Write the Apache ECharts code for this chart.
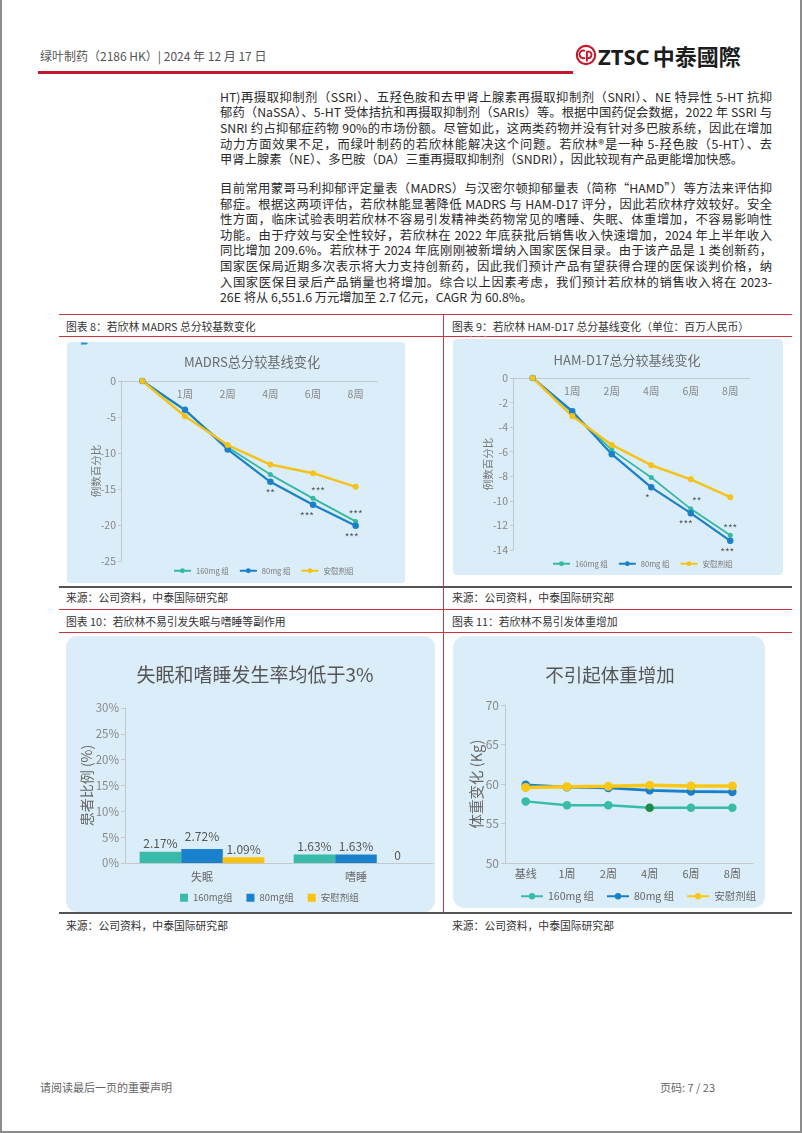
<!DOCTYPE html>
<html><head><meta charset="utf-8">
<script src="https://cdn.jsdelivr.net/npm/echarts@6/dist/echarts.min.js"></script>
<style>
html,body{margin:0;padding:0;background:#fff;}
#page{position:relative;width:802px;height:1133px;overflow:hidden;font-family:"Noto Sans CJK SC",sans-serif;color:#333;}
.abs{position:absolute;white-space:nowrap;}
.line{position:absolute;left:220px;width:552px;height:15.6px;line-height:15.6px;font-size:12.3px;white-space:nowrap;text-align:justify;text-align-last:justify;color:#2a2a2a;}
.line.last{text-align:left;text-align-last:left;}
.bar{position:absolute;}
.cap{position:absolute;font-size:10.8px;line-height:14px;color:#333;white-space:nowrap;}
.panel{position:absolute;background:#dbedf8;}
.chart{position:absolute;}
</style></head>
<body><div id="page">
<!-- page border -->
<div class="bar" style="left:0;top:0;width:1.5px;height:1133px;background:#8c8c8c"></div>
<div class="bar" style="left:800px;top:0;width:2px;height:1133px;background:#8c8c8c"></div>
<div class="bar" style="left:0;top:1131px;width:802px;height:2px;background:#8c8c8c"></div>

<!-- header -->
<div class="abs" style="left:40px;top:48px;font-size:12px;line-height:16px;color:#555">绿叶制药（2186 HK）| 2024 年 12 月 17 日</div>
<div class="bar" style="left:38px;top:71px;width:535px;height:3px;background:#c3182b"></div>
<svg class="abs" style="left:575px;top:44px" width="22" height="22" viewBox="0 0 24 24">
<circle cx="12" cy="12" r="10" fill="none" stroke="#c3182b" stroke-width="2.3"/>
<path d="M11 7.5 a4.2 4.2 0 1 0 0 7.5" stroke="#c3182b" stroke-width="2.1" fill="none"/>
<path d="M13 8 v11 M13 8.5 a3.6 3.6 0 1 1 0 6.6" stroke="#c3182b" stroke-width="2.1" fill="none"/>
</svg>
<div class="abs" style="left:598px;top:41px;font-size:22px;line-height:28px;font-weight:bold;color:#1c1c1c;font-family:'Noto Sans','Noto Sans CJK TC',sans-serif">ZTSC<span style="font-family:'Noto Sans CJK TC';margin-left:3px">中泰國際</span></div>

<!-- body text -->
<div id="body"></div>

<!-- frame lines -->
<div class="bar" style="left:59px;top:314px;width:733px;height:1.3px;background:#c9363e"></div>
<div class="bar" style="left:59px;top:336px;width:733px;height:1px;background:#c9363e"></div>
<div class="bar" style="left:442.5px;top:314px;width:1.3px;height:599px;background:#c9363e"></div>
<div class="bar" style="left:59px;top:585.5px;width:733px;height:2px;background:#555"></div>
<div class="bar" style="left:59px;top:609px;width:733px;height:1px;background:#c9363e"></div>
<div class="bar" style="left:59px;top:632px;width:733px;height:1px;background:#c9363e"></div>
<div class="bar" style="left:59px;top:912px;width:733px;height:2px;background:#555"></div>

<div class="cap" style="left:66px;top:319px">图表 8：若欣林 MADRS 总分较基数变化</div>
<div class="cap" style="left:452px;top:319px">图表 9：若欣林 HAM-D17 总分基线变化（单位：百万人民币）</div>
<div class="cap" style="left:66px;top:590px">来源：公司资料，中泰国际研究部</div>
<div class="cap" style="left:452px;top:590px">来源：公司资料，中泰国际研究部</div>
<div class="cap" style="left:66px;top:614px">图表 10：若欣林不易引发失眠与嗜睡等副作用</div>
<div class="cap" style="left:452px;top:614px">图表 11：若欣林不易引发体重增加</div>
<div class="cap" style="left:66px;top:918px">来源：公司资料，中泰国际研究部</div>
<div class="cap" style="left:452px;top:918px">来源：公司资料，中泰国际研究部</div>

<!-- panels -->
<div class="panel" style="left:67px;top:342px;width:338px;height:241px;border-radius:4px"></div>
<div class="panel" style="left:453px;top:339px;width:330px;height:236px;border-radius:4px"></div>
<div class="panel" style="left:66px;top:636px;width:369px;height:276px;border-radius:11px"></div>
<div class="panel" style="left:453px;top:636px;width:312px;height:272px;border-radius:12px"></div>
<div class="abs" style="left:81px;top:338px;font-size:6px;color:#2a8fd0;letter-spacing:-1px">▸▸▸</div>
<div class="abs" style="left:468px;top:331px;font-size:7px;color:#9aa4aa;letter-spacing:0px">···</div>

<div id="c8" class="chart" style="left:67px;top:342px;width:338px;height:241px"></div>
<div id="c9" class="chart" style="left:453px;top:339px;width:330px;height:236px"></div>
<div id="c10" class="chart" style="left:66px;top:636px;width:372px;height:276px"></div>
<div id="c11" class="chart" style="left:453px;top:636px;width:335px;height:272px"></div>

<!-- footer -->
<div class="abs" style="left:40px;top:1080px;font-size:11px;line-height:14px;color:#666">请阅读最后一页的重要声明</div>
<div class="abs" style="left:660px;top:1080px;font-size:11px;line-height:14px;color:#666">页码: 7 / 23</div>
</div>

<script>
// ---------- text ----------
const para1 = [
 'HT)再摄取抑制剂（SSRI）、五羟色胺和去甲肾上腺素再摄取抑制剂（SNRI）、NE 特异性 5-HT 抗抑',
 '郁药（NaSSA）、5-HT 受体拮抗和再摄取抑制剂（SARIs）等。根据中国药促会数据，2022 年 SSRI 与',
 'SNRI 约占抑郁症药物 90%的市场份额。尽管如此，这两类药物并没有针对多巴胺系统，因此在增加',
 '动力方面效果不足，而绿叶制药的若欣林能解决这个问题。若欣林®是一种 5-羟色胺（5-HT）、去',
 '甲肾上腺素（NE）、多巴胺（DA）三重再摄取抑制剂（SNDRI），因此较现有产品更能增加快感。'
];
const para2 = [
 '目前常用蒙哥马利抑郁评定量表（MADRS）与汉密尔顿抑郁量表（简称“HAMD”）等方法来评估抑',
 '郁症。根据这两项评估，若欣林能显著降低 MADRS 与 HAM-D17 评分，因此若欣林疗效较好。安全',
 '性方面，临床试验表明若欣林不容易引发精神类药物常见的嗜睡、失眠、体重增加，不容易影响性',
 '功能。由于疗效与安全性较好，若欣林在 2022 年底获批后销售收入快速增加，2024 年上半年收入',
 '同比增加 209.6%。若欣林于 2024 年底刚刚被新增纳入国家医保目录。由于该产品是 1 类创新药，',
 '国家医保局近期多次表示将大力支持创新药，因此我们预计产品有望获得合理的医保谈判价格，纳',
 '入国家医保目录后产品销量也将增加。综合以上因素考虑，我们预计若欣林的销售收入将在 2023-',
 '26E 将从 6,551.6 万元增加至 2.7 亿元，CAGR 为 60.8%。'
];

// ---------- data ----------
const weeks = ['', '1周', '2周', '4周', '6周', '8周'];
const groupNames = ['160mg 组', '80mg 组', '安慰剂组'];

const madrsYTicks = [0, -5, -10, -15, -20, -25];
const madrs160 = [0, -4.1, -9.2, -13.0, -16.3, -19.5];
const madrs80 = [0, -4.0, -9.5, -14.0, -17.2, -20.1];
const madrsPlacebo = [0, -4.9, -8.9, -11.6, -12.8, -14.7];
const madrs160Marks = ['', '', '', '', '***', '***'];
const madrs80Marks = ['', '', '', '**', '***', '***'];

const hamYTicks = [0, -2, -4, -6, -8, -10, -12, -14];
const ham160 = [0, -2.8, -5.85, -8.1, -10.65, -12.8];
const ham80 = [0, -2.7, -6.2, -8.9, -11.0, -13.25];
const hamPlacebo = [0, -3.1, -5.45, -7.1, -8.25, -9.7];
const ham160Marks = ['', '', '', '', '**', '***'];
const ham80Marks = ['', '', '', '*', '***', '***'];

const aeCategories = ['失眠', '嗜睡'];
const aeGroupNames = ['160mg组', '80mg组', '安慰剂组'];
const aeYTicks = [0, 5, 10, 15, 20, 25, 30];
const ae160 = [2.17, 1.63];
const ae80 = [2.72, 1.63];
const aePlacebo = [1.09, 0];

const wtCategories = ['基线', '1周', '2周', '4周', '6周', '8周'];
const wtYTicks = [50, 55, 60, 65, 70];
const wt160 = [57.8, 57.3, 57.3, 57.0, 57.0, 57.0];
const wt80 = [59.9, 59.6, 59.5, 59.2, 59.05, 59.0];
const wtPlacebo = [59.55, 59.65, 59.7, 59.85, 59.75, 59.75];

// ---------- body text render ----------
(function(){
  const body = document.getElementById('body');
  const LH = 15.6;
  function put(lines, c0){
    lines.forEach((t,i)=>{
      const d = document.createElement('div');
      d.className = 'line' + (i===lines.length-1 ? ' last' : '');
      d.style.top = (c0 + i*LH - LH/2) + 'px';
      d.textContent = t;
      body.appendChild(d);
    });
  }
  put(para1, 97.5);
  put(para2, 188.8);
})();

// ---------- charts ----------
const FONT = '"Noto Sans CJK SC", sans-serif';
const C_TEAL = '#35b8a6', C_BLUE = '#1a80c8', C_YEL = '#f5c21b';
const AX = '#c3c8cc';

function range(ticks){
  const mn = Math.min(...ticks), mx = Math.max(...ticks);
  return {min: mn, max: mx, interval: Math.abs(ticks[1]-ticks[0])};
}
function withMarks(vals, marks, pos, dist, offsets){
  return vals.map((v,i)=> marks[i] ? {value: v, label: {show: true, formatter: marks[i], position: pos, distance: dist, offset: (offsets && offsets[i]) || [0,0]}} : v);
}
function titleText(x, y, text, size, fill){
  return {type: 'text', x: x, y: y, style: {text: text, fontSize: size, fill: fill, align: 'center', verticalAlign: 'middle', textAlign: 'center', textVerticalAlign: 'middle', fontFamily: FONT}};
}

function scoreOption(cfg){
  const r = range(cfg.ticks);
  return {
    animation: false,
    textStyle: {fontFamily: FONT},
    graphic: [titleText(cfg.titleX, cfg.titleY, cfg.title, cfg.titleSize, '#6a6a6a')],
    grid: cfg.grid,
    legend: {left: cfg.legendLeft, top: cfg.legendTop, itemWidth: 17, itemHeight: 6, itemGap: 10,
      textStyle: {fontSize: 7.5, color: '#777'}, data: groupNames},
    xAxis: {type: 'category', data: weeks, position: 'top',
      axisLine: {lineStyle: {color: AX}},
      axisTick: {inside: false, length: 4, lineStyle: {color: AX}},
      axisLabel: {color: '#888', fontSize: 10.5, margin: 8, inside: true}},
    yAxis: {type: 'value', min: r.min, max: r.max, interval: r.interval,
      axisLine: {show: true, lineStyle: {color: AX}},
      axisTick: {show: true, length: 3, lineStyle: {color: AX}},
      splitLine: {show: false},
      axisLabel: {color: '#888', fontSize: 10.5, margin: 5},
      name: '例数百分比', nameLocation: 'middle', nameRotate: 90, nameGap: cfg.nameGap, nameMoveOverlap: false,
      nameTextStyle: {color: '#777', fontSize: 10.5}},
    series: [
      {name: groupNames[0], type: 'line', color: C_TEAL, symbol: 'circle', symbolSize: 5,
        lineStyle: {width: 1.8}, label: {color: '#555', fontSize: 10},
        data: withMarks(cfg.s160, cfg.m160, 'top', 0, cfg.off160)},
      {name: groupNames[1], type: 'line', color: C_BLUE, symbol: 'circle', symbolSize: 6.5,
        lineStyle: {width: 2.2}, label: {color: '#555', fontSize: 10},
        data: withMarks(cfg.s80, cfg.m80, 'bottom', 3, cfg.off80)},
      {name: groupNames[2], type: 'line', color: C_YEL, symbol: 'circle', symbolSize: 6,
        lineStyle: {width: 2.5}, data: cfg.sp}
    ]
  };
}

echarts.init(document.getElementById('c8'), null, {renderer: 'canvas'}).setOption(scoreOption({
  ticks: madrsYTicks, title: 'MADRS总分较基线变化', titleX: 185, titleY: 20, titleSize: 13.2,
  grid: {left: 54, right: 28, top: 39, bottom: 22},
  legendLeft: 101, legendTop: 220, nameGap: 20,
  s160: madrs160, s80: madrs80, sp: madrsPlacebo, m160: madrs160Marks, m80: madrs80Marks,
  off160: [0,0,0,0,[5,0],[0,0]], off80: [0,0,0,0,[-6,0],[-4,0]]
}));

echarts.init(document.getElementById('c9'), null, {renderer: 'canvas'}).setOption(scoreOption({
  ticks: hamYTicks, title: 'HAM-D17总分较基线变化', titleX: 174, titleY: 21, titleSize: 13,
  grid: {left: 60, right: 33, top: 39, bottom: 25},
  legendLeft: 94, legendTop: 216, nameGap: 19.5,
  s160: ham160, s80: ham80, sp: hamPlacebo, m160: ham160Marks, m80: ham80Marks,
  off160: [0,0,0,0,[6,0],[0,0]], off80: [0,0,0,[-4,0],[-5,0],[-3,0]]
}));

// chart 10
(function(){
  const r = range(aeYTicks);
  const fmt = p => p.value === 0 ? '0' : p.value.toFixed(2) + '%';
  const lab = {show: true, position: 'top', distance: 2, color: '#555', fontSize: 12, formatter: fmt};
  echarts.init(document.getElementById('c10')).setOption({
    animation: false,
    textStyle: {fontFamily: FONT},
    graphic: [titleText(189, 39, '失眠和嗜睡发生率均低于3%', 19, '#555')],
    grid: {left: 59, width: 308, top: 72, bottom: 49},
    legend: {left: 109, top: 252, icon: 'rect', itemWidth: 8, itemHeight: 8, itemGap: 14, itemStyle: {borderWidth: 0},
      textStyle: {fontSize: 9.5, color: '#666'}, data: aeGroupNames},
    xAxis: {type: 'category', data: aeCategories,
      axisLine: {lineStyle: {color: AX}}, axisTick: {show: false},
      axisLabel: {color: '#666', fontSize: 11, margin: 8}},
    yAxis: {type: 'value', min: r.min, max: r.max, interval: r.interval,
      axisLine: {show: true, lineStyle: {color: AX}},
      axisTick: {show: true, length: 4, lineStyle: {color: AX}},
      splitLine: {show: false},
      axisLabel: {color: '#888', fontSize: 11.5, margin: 6, formatter: '{value}%'},
      name: '患者比例 (%)', nameLocation: 'middle', nameRotate: 90, nameGap: 31, nameMoveOverlap: false,
      nameTextStyle: {color: '#666', fontSize: 14}},
    series: [
      {name: aeGroupNames[0], type: 'bar', color: '#38bca9', barGap: '0%', barCategoryGap: '19%', label: lab, data: ae160},
      {name: aeGroupNames[1], type: 'bar', color: '#1a82cc', label: lab,
        data: ae80.map((v,i)=> i===0 ? {value: v, label: {offset: [0,-5]}} : v)},
      {name: aeGroupNames[2], type: 'bar', color: '#fbc30f', label: lab, data: aePlacebo}
    ]
  });
})();

// chart 11
(function(){
  const r = range(wtYTicks);
  echarts.init(document.getElementById('c11')).setOption({
    animation: false,
    textStyle: {fontFamily: FONT},
    graphic: [titleText(157, 39, '不引起体重增加', 18.5, '#555')],
    grid: {left: 52, width: 248, top: 69, bottom: 45},
    legend: {left: 62, top: 250, itemWidth: 22, itemHeight: 8, itemGap: 12,
      textStyle: {fontSize: 10.5, color: '#666'}, data: groupNames},
    xAxis: {type: 'category', data: wtCategories,
      axisLine: {lineStyle: {color: AX}}, axisTick: {show: false},
      axisLabel: {color: '#666', fontSize: 11, margin: 5}},
    yAxis: {type: 'value', min: r.min, max: r.max, interval: r.interval,
      axisLine: {show: true, lineStyle: {color: AX}},
      axisTick: {show: true, length: 4, lineStyle: {color: AX}},
      splitLine: {show: false},
      axisLabel: {color: '#888', fontSize: 12, margin: 6},
      name: '体重变化 (Kg)', nameLocation: 'middle', nameRotate: 90, nameGap: 21, nameMoveOverlap: false,
      nameTextStyle: {color: '#666', fontSize: 14.5}},
    series: [
      {name: groupNames[0], type: 'line', color: '#38bca9', symbol: 'circle', symbolSize: 8.5, lineStyle: {width: 2.5},
        data: wt160.map((v,i)=> i===3 ? {value: v, itemStyle: {color: '#1f8a4c'}} : v)},
      {name: groupNames[1], type: 'line', color: '#1a80c8', symbol: 'circle', symbolSize: 8.5, lineStyle: {width: 2.8}, data: wt80},
      {name: groupNames[2], type: 'line', color: '#f9c716', symbol: 'circle', symbolSize: 9, lineStyle: {width: 3.5}, data: wtPlacebo}
    ]
  });
})();
</script>
</body></html>
